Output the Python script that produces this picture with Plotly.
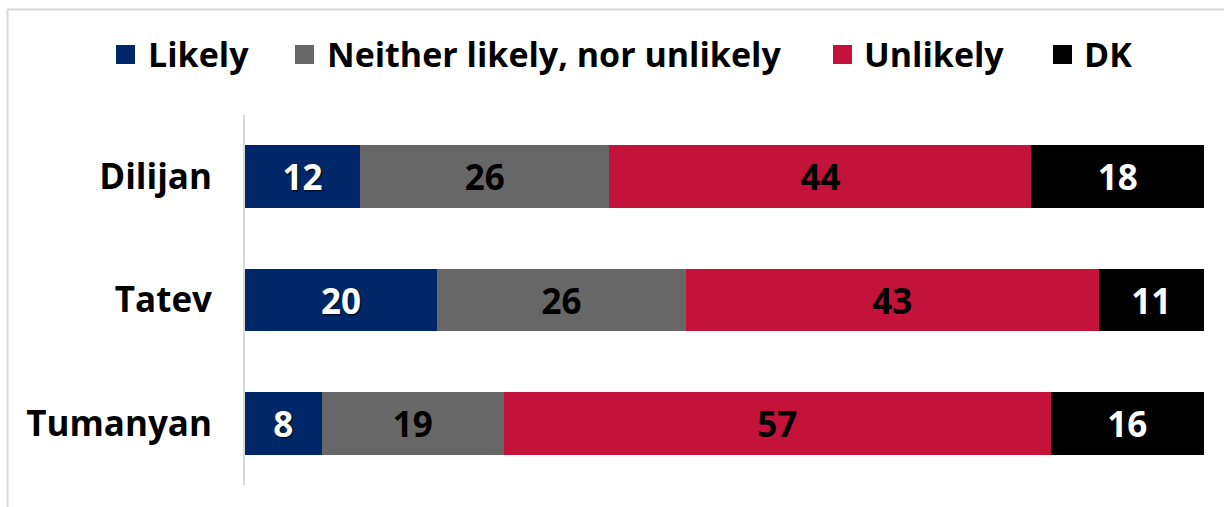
import plotly.graph_objects as go

# Survey results by site (percent)
sites = ["Dilijan", "Tatev", "Tumanyan"]
series_names = ["Likely", "Neither likely, nor unlikely", "Unlikely", "DK"]
likely = [12, 20, 8]
neither = [26, 26, 19]
unlikely = [44, 43, 57]
dk = [18, 11, 16]

colors = ["#002868", "#676767", "#c4133b", "#000000"]
label_colors = ["#ffffff", "#000000", "#000000", "#ffffff"]

W, H = 1224, 507
L, R, T, B = 245, 20, 115, 22
PW, PH = W - L - R, H - T - B

FONT = "Open Sans"


def px_x(px):
    return (px - L) / PW


def px_y(py):
    return (H - B - py) / PH


fig = go.Figure()
for name, vals, col, lc in zip(series_names, [likely, neither, unlikely, dk], colors, label_colors):
    shadow = "1px 1px 2px rgba(0,0,0,0.9)" if lc == "#ffffff" else "none"
    fig.add_trace(go.Bar(
        y=sites, x=vals, orientation="h", name=name,
        marker=dict(color=col, line=dict(width=0)),
        text=[str(v) for v in vals], textposition="inside",
        insidetextanchor="middle", textangle=0,
        textfont=dict(family=FONT, size=35, color=lc, weight="bold", shadow=shadow),
        showlegend=False,
    ))

# Legend drawn as swatches + labels across the top
legend_items = [
    ("Likely", colors[0], 116, 146),
    ("Neither likely, nor unlikely", colors[1], 295, 325),
    ("Unlikely", colors[2], 833, 862),
    ("DK", colors[3], 1053, 1082),
]
shapes = []
annotations = []
for text, col, sx, tx in legend_items:
    shapes.append(dict(type="rect", xref="paper", yref="paper",
                       x0=px_x(sx), x1=px_x(sx + 19), y0=px_y(64), y1=px_y(45),
                       fillcolor=col, line=dict(width=0)))
    annotations.append(dict(text=text, xref="paper", yref="paper",
                            x=px_x(tx), y=px_y(54), xanchor="left", yanchor="middle",
                            showarrow=False,
                            font=dict(family=FONT, size=34, color="#000000", weight="bold")))

# Outer chart frame (top and left edges)
shapes.append(dict(type="line", xref="paper", yref="paper",
                   x0=px_x(7), x1=px_x(W + 10), y0=px_y(9.5), y1=px_y(9.5),
                   line=dict(color="#d9d9d9", width=2)))
shapes.append(dict(type="line", xref="paper", yref="paper",
                   x0=px_x(7.5), x1=px_x(7.5), y0=px_y(9), y1=px_y(H + 10),
                   line=dict(color="#d9d9d9", width=2)))

fig.update_layout(
    barmode="stack",
    bargap=0.49,
    width=W, height=H,
    margin=dict(l=L, r=R, t=T, b=B, pad=0),
    paper_bgcolor="#ffffff",
    plot_bgcolor="#ffffff",
    uniformtext=dict(minsize=35, mode="show"),
    shapes=shapes,
    annotations=annotations,
    xaxis=dict(range=[0, 100], showgrid=False, zeroline=False,
               showticklabels=False, showline=False, fixedrange=True),
    yaxis=dict(categoryorder="array", categoryarray=sites,
               range=[2.5, -0.5], showgrid=False, zeroline=False,
               showline=True, linecolor="#d9d9d9", linewidth=2,
               ticks="", ticklabelstandoff=24,
               tickfont=dict(family=FONT, size=35, color="#000000", weight="bold")),
)

fig.write_html("out.html")
